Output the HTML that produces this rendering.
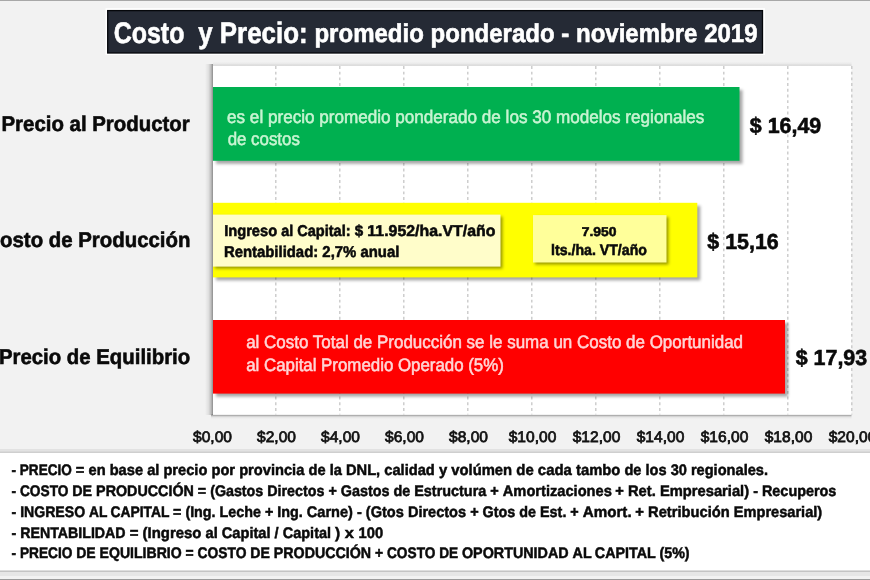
<!DOCTYPE html>
<html><head><meta charset="utf-8"><style>
html,body{margin:0;padding:0;background:#f2f2f2;}
body{width:870px;height:580px;overflow:hidden;position:relative;}
svg{position:absolute;left:0;top:0;display:block;}
text{font-family:"Liberation Sans",sans-serif;text-rendering:geometricPrecision;}
</style></head><body>
<svg width="870" height="580" viewBox="0 0 870 580">
<defs>
<filter id="sh" color-interpolation-filters="sRGB" x="-5%" y="-20%" width="110%" height="150%"><feGaussianBlur in="SourceAlpha" stdDeviation="1.8"/><feOffset dx="2.5" dy="3" result="b"/><feFlood flood-color="#000" flood-opacity="0.35"/><feComposite in2="b" operator="in"/><feMerge><feMergeNode/><feMergeNode in="SourceGraphic"/></feMerge></filter>
<filter id="sh2" color-interpolation-filters="sRGB" x="-5%" y="-20%" width="110%" height="150%"><feGaussianBlur in="SourceAlpha" stdDeviation="1.5"/><feOffset dx="1.5" dy="2" result="b"/><feFlood flood-color="#000" flood-opacity="0.4"/><feComposite in2="b" operator="in"/><feMerge><feMergeNode/><feMergeNode in="SourceGraphic"/></feMerge></filter>
<filter id="psh" x="-5%" y="-5%" width="110%" height="110%"><feGaussianBlur in="SourceAlpha" stdDeviation="1.6"/><feOffset dx="-2.5" dy="1.5" result="b"/><feFlood flood-color="#000" flood-opacity="0.55"/><feComposite in2="b" operator="in"/><feMerge><feMergeNode/><feMergeNode in="SourceGraphic"/></feMerge></filter>
<linearGradient id="lsh" x1="0" x2="1" y1="0" y2="0"><stop offset="0" stop-color="#000" stop-opacity="0"/><stop offset="0.45" stop-color="#000" stop-opacity="0.08"/><stop offset="0.75" stop-color="#000" stop-opacity="0.22"/><stop offset="1" stop-color="#000" stop-opacity="0.42"/></linearGradient>
<linearGradient id="bsh" x1="0" x2="0" y1="0" y2="1"><stop offset="0" stop-color="#000" stop-opacity="0.42"/><stop offset="0.3" stop-color="#000" stop-opacity="0.15"/><stop offset="0.6" stop-color="#000" stop-opacity="0.03"/><stop offset="1" stop-color="#000" stop-opacity="0"/></linearGradient>
<linearGradient id="tsh" x1="0" x2="0" y1="0" y2="1"><stop offset="0" stop-color="#000" stop-opacity="0"/><stop offset="0.6" stop-color="#000" stop-opacity="0.04"/><stop offset="1" stop-color="#000" stop-opacity="0.17"/></linearGradient>
</defs>
<rect x="0" y="0" width="870" height="580" fill="#f2f2f2"/>
<rect x="0" y="0" width="870" height="1" fill="#a8a8a8"/>
<!-- title -->
<rect x="105.5" y="8.2" width="659.5" height="46.8" fill="#ffffff"/>
<rect x="107.7" y="10.6" width="654.8" height="42.4" fill="#252a35" stroke="#05070b" stroke-width="1.3"/>
<!-- plot area -->
<rect x="205" y="64" width="8" height="351" fill="url(#lsh)"/>
<rect x="211" y="414.7" width="640.5" height="5" fill="url(#bsh)"/>
<rect x="213" y="61.5" width="638.5" height="4.3" fill="url(#tsh)"/>
<rect x="213" y="65.8" width="638.5" height="348.9" fill="#ffffff"/>
<g stroke="#c6c6c6" stroke-width="1.3" stroke-dasharray="2.9,2.8">
<line x1="275.8" y1="66" x2="275.8" y2="414.5"/>
<line x1="339.8" y1="66" x2="339.8" y2="414.5"/>
<line x1="403.8" y1="66" x2="403.8" y2="414.5"/>
<line x1="467.8" y1="66" x2="467.8" y2="414.5"/>
<line x1="531.8" y1="66" x2="531.8" y2="414.5"/>
<line x1="595.8" y1="66" x2="595.8" y2="414.5"/>
<line x1="659.8" y1="66" x2="659.8" y2="414.5"/>
<line x1="723.8" y1="66" x2="723.8" y2="414.5"/>
<line x1="787.8" y1="66" x2="787.8" y2="414.5"/>
<line x1="851.8" y1="66" x2="851.8" y2="414.5"/>
</g>
<!-- bars -->
<rect x="213" y="87" width="526.5" height="73.8" fill="#00b050" filter="url(#sh)"/>
<rect x="213" y="202.8" width="484.3" height="74.6" fill="#ffff00" filter="url(#sh)"/>
<rect x="213" y="214.6" width="287.5" height="52" fill="#fffdca" filter="url(#sh2)"/>
<rect x="533" y="215.1" width="133.5" height="47.4" fill="#ffff9a" filter="url(#sh2)"/>
<rect x="213" y="320" width="572" height="73.6" fill="#ff0000" filter="url(#sh)"/>
<!-- bottom box -->
<rect x="0" y="449" width="870" height="4" fill="#e2e2e2"/>
<rect x="0" y="451.5" width="870" height="1.5" fill="#cfcfcf"/>
<rect x="0" y="453" width="870" height="117.5" fill="#ffffff"/>
<rect x="0" y="570.5" width="870" height="1.5" fill="#c4c4c4"/>
<rect x="0" y="572" width="870" height="4" fill="#e6e6e6"/>
<rect x="0" y="579" width="870" height="1" fill="#9a9a9a"/>
<g opacity="0.999">
<text x="113.68" y="42.75" font-size="29.64" font-weight="bold" stroke="#ffffff" stroke-width="0.6" fill="#ffffff" textLength="70.74" lengthAdjust="spacingAndGlyphs">Costo</text>
<text x="198.32" y="42.75" font-size="29.64" font-weight="bold" stroke="#ffffff" stroke-width="0.6" fill="#ffffff" textLength="14.36" lengthAdjust="spacingAndGlyphs">y</text>
<text x="219.85" y="42.75" font-size="29.64" font-weight="bold" stroke="#ffffff" stroke-width="0.6" fill="#ffffff" textLength="87.78" lengthAdjust="spacingAndGlyphs">Precio:</text>
<text x="314.44" y="42.15" font-size="25.79" font-weight="bold" stroke="#ffffff" stroke-width="0.6" fill="#ffffff" textLength="443.14" lengthAdjust="spacingAndGlyphs">promedio ponderado - noviembre 2019</text>
<text x="1.52" y="131.25" font-size="21.42" font-weight="bold" stroke="#0a0a0a" stroke-width="0.6" fill="#0a0a0a" textLength="188.18" lengthAdjust="spacingAndGlyphs">Precio al Productor</text>
<text x="-14.69" y="247.45" font-size="21.42" font-weight="bold" stroke="#0a0a0a" stroke-width="0.6" fill="#0a0a0a" textLength="205.14" lengthAdjust="spacingAndGlyphs">Costo de Producción</text>
<text x="-1.07" y="363.85" font-size="21.42" font-weight="bold" stroke="#0a0a0a" stroke-width="0.6" fill="#0a0a0a" textLength="191.26" lengthAdjust="spacingAndGlyphs">Precio de Equilibrio</text>
<text x="749.83" y="132.65" font-size="21.84" font-weight="bold" stroke="#0a0a0a" stroke-width="0.6" fill="#0a0a0a" textLength="71.45" lengthAdjust="spacingAndGlyphs">$ 16,49</text>
<text x="707.33" y="248.75" font-size="21.84" font-weight="bold" stroke="#0a0a0a" stroke-width="0.6" fill="#0a0a0a" textLength="71.45" lengthAdjust="spacingAndGlyphs">$ 15,16</text>
<text x="795.73" y="365.25" font-size="21.84" font-weight="bold" stroke="#0a0a0a" stroke-width="0.6" fill="#0a0a0a" textLength="71.45" lengthAdjust="spacingAndGlyphs">$ 17,93</text>
<text x="227.07" y="122.65" font-size="18.1" stroke="#c8f4d2" stroke-width="0.55" fill="#c8f4d2" textLength="477.23" lengthAdjust="spacingAndGlyphs">es el precio promedio ponderado de los 30 modelos regionales</text>
<text x="227.68" y="145.05" font-size="18.1" stroke="#c8f4d2" stroke-width="0.55" fill="#c8f4d2" textLength="72.21" lengthAdjust="spacingAndGlyphs">de costos</text>
<text x="224.17" y="236.25" font-size="15.6" font-weight="bold" stroke="#0a0a0a" stroke-width="0.55" fill="#0a0a0a" textLength="53.01" lengthAdjust="spacingAndGlyphs">Ingreso</text>
<text x="281.23" y="236.25" font-size="15.6" font-weight="bold" stroke="#0a0a0a" stroke-width="0.55" fill="#0a0a0a" textLength="11.97" lengthAdjust="spacingAndGlyphs">al</text>
<text x="297.20" y="236.25" font-size="15.6" font-weight="bold" stroke="#0a0a0a" stroke-width="0.55" fill="#0a0a0a" textLength="53.42" lengthAdjust="spacingAndGlyphs">Capital:</text>
<text x="354.68" y="236.25" font-size="15.6" font-weight="bold" stroke="#0a0a0a" stroke-width="0.55" fill="#0a0a0a" textLength="8.45" lengthAdjust="spacingAndGlyphs">$</text>
<text x="367.36" y="236.25" font-size="15.6" font-weight="bold" stroke="#0a0a0a" stroke-width="0.55" fill="#0a0a0a" textLength="128.02" lengthAdjust="spacingAndGlyphs">11.952/ha.VT/año</text>
<text x="223.89" y="257.25" font-size="15.6" font-weight="bold" stroke="#0a0a0a" stroke-width="0.55" fill="#0a0a0a" textLength="175.46" lengthAdjust="spacingAndGlyphs">Rentabilidad: 2,7% anual</text>
<text x="581.71" y="235.85" font-size="12.79" font-weight="bold" stroke="#0a0a0a" stroke-width="0.55" fill="#0a0a0a" textLength="34.75" lengthAdjust="spacingAndGlyphs">7.950</text>
<text x="551.01" y="254.85" font-size="15.08" font-weight="bold" stroke="#0a0a0a" stroke-width="0.55" fill="#0a0a0a" textLength="95.94" lengthAdjust="spacingAndGlyphs">lts./ha. VT/año</text>
<text x="246.18" y="348.25" font-size="17.99" stroke="#ffd6d6" stroke-width="0.55" fill="#ffd6d6" textLength="496.89" lengthAdjust="spacingAndGlyphs">al Costo Total de Producción se le suma un Costo de Oportunidad</text>
<text x="246.18" y="371.25" font-size="17.99" stroke="#ffd6d6" stroke-width="0.55" fill="#ffd6d6" textLength="257.64" lengthAdjust="spacingAndGlyphs">al Capital Promedio Operado (5%)</text>
<text x="193.04" y="441.85" font-size="15.39" stroke="#111111" stroke-width="0.75" fill="#111111" textLength="38.94" lengthAdjust="spacingAndGlyphs">$0,00</text>
<text x="257.04" y="441.85" font-size="15.39" stroke="#111111" stroke-width="0.75" fill="#111111" textLength="38.94" lengthAdjust="spacingAndGlyphs">$2,00</text>
<text x="321.04" y="441.85" font-size="15.39" stroke="#111111" stroke-width="0.75" fill="#111111" textLength="38.94" lengthAdjust="spacingAndGlyphs">$4,00</text>
<text x="385.04" y="441.85" font-size="15.39" stroke="#111111" stroke-width="0.75" fill="#111111" textLength="38.94" lengthAdjust="spacingAndGlyphs">$6,00</text>
<text x="449.04" y="441.85" font-size="15.39" stroke="#111111" stroke-width="0.75" fill="#111111" textLength="38.94" lengthAdjust="spacingAndGlyphs">$8,00</text>
<text x="508.73" y="441.85" font-size="15.39" stroke="#111111" stroke-width="0.75" fill="#111111" textLength="47.59" lengthAdjust="spacingAndGlyphs">$10,00</text>
<text x="572.73" y="441.85" font-size="15.39" stroke="#111111" stroke-width="0.75" fill="#111111" textLength="47.59" lengthAdjust="spacingAndGlyphs">$12,00</text>
<text x="636.73" y="441.85" font-size="15.39" stroke="#111111" stroke-width="0.75" fill="#111111" textLength="47.59" lengthAdjust="spacingAndGlyphs">$14,00</text>
<text x="700.73" y="441.85" font-size="15.39" stroke="#111111" stroke-width="0.75" fill="#111111" textLength="47.59" lengthAdjust="spacingAndGlyphs">$16,00</text>
<text x="764.73" y="441.85" font-size="15.39" stroke="#111111" stroke-width="0.75" fill="#111111" textLength="47.59" lengthAdjust="spacingAndGlyphs">$18,00</text>
<text x="828.73" y="441.85" font-size="15.39" stroke="#111111" stroke-width="0.75" fill="#111111" textLength="47.59" lengthAdjust="spacingAndGlyphs">$20,00</text>
<text x="11.52" y="475.25" font-size="15.29" font-weight="bold" stroke="#0a0a0a" stroke-width="0.5" fill="#0a0a0a" textLength="4.55" lengthAdjust="spacingAndGlyphs">-</text>
<text x="19.83" y="475.25" font-size="15.29" font-weight="bold" stroke="#0a0a0a" stroke-width="0.5" fill="#0a0a0a" textLength="51.97" lengthAdjust="spacingAndGlyphs">PRECIO</text>
<text x="75.87" y="475.25" font-size="15.29" font-weight="bold" stroke="#0a0a0a" stroke-width="0.5" fill="#0a0a0a" textLength="8.56" lengthAdjust="spacingAndGlyphs">=</text>
<text x="88.50" y="475.25" font-size="15.29" font-weight="bold" stroke="#0a0a0a" stroke-width="0.5" fill="#0a0a0a" textLength="17.10" lengthAdjust="spacingAndGlyphs">en</text>
<text x="109.67" y="475.25" font-size="15.29" font-weight="bold" stroke="#0a0a0a" stroke-width="0.5" fill="#0a0a0a" textLength="33.39" lengthAdjust="spacingAndGlyphs">base</text>
<text x="147.13" y="475.25" font-size="15.29" font-weight="bold" stroke="#0a0a0a" stroke-width="0.5" fill="#0a0a0a" textLength="12.22" lengthAdjust="spacingAndGlyphs">al</text>
<text x="163.42" y="475.25" font-size="15.29" font-weight="bold" stroke="#0a0a0a" stroke-width="0.5" fill="#0a0a0a" textLength="43.97" lengthAdjust="spacingAndGlyphs">precio</text>
<text x="211.46" y="475.25" font-size="15.29" font-weight="bold" stroke="#0a0a0a" stroke-width="0.5" fill="#0a0a0a" textLength="23.60" lengthAdjust="spacingAndGlyphs">por</text>
<text x="239.14" y="475.25" font-size="15.29" font-weight="bold" stroke="#0a0a0a" stroke-width="0.5" fill="#0a0a0a" textLength="65.22" lengthAdjust="spacingAndGlyphs">provincia</text>
<text x="308.44" y="475.25" font-size="15.29" font-weight="bold" stroke="#0a0a0a" stroke-width="0.5" fill="#0a0a0a" textLength="17.12" lengthAdjust="spacingAndGlyphs">de</text>
<text x="329.63" y="475.25" font-size="15.29" font-weight="bold" stroke="#0a0a0a" stroke-width="0.5" fill="#0a0a0a" textLength="12.24" lengthAdjust="spacingAndGlyphs">la</text>
<text x="345.95" y="475.25" font-size="15.29" font-weight="bold" stroke="#0a0a0a" stroke-width="0.5" fill="#0a0a0a" textLength="34.23" lengthAdjust="spacingAndGlyphs">DNL,</text>
<text x="384.25" y="475.25" font-size="15.29" font-weight="bold" stroke="#0a0a0a" stroke-width="0.5" fill="#0a0a0a" textLength="50.55" lengthAdjust="spacingAndGlyphs">calidad</text>
<text x="438.90" y="475.25" font-size="15.29" font-weight="bold" stroke="#0a0a0a" stroke-width="0.5" fill="#0a0a0a" textLength="8.24" lengthAdjust="spacingAndGlyphs">y</text>
<text x="451.25" y="475.25" font-size="15.29" font-weight="bold" stroke="#0a0a0a" stroke-width="0.5" fill="#0a0a0a" textLength="60.92" lengthAdjust="spacingAndGlyphs">volúmen</text>
<text x="516.29" y="475.25" font-size="15.29" font-weight="bold" stroke="#0a0a0a" stroke-width="0.5" fill="#0a0a0a" textLength="17.40" lengthAdjust="spacingAndGlyphs">de</text>
<text x="537.85" y="475.25" font-size="15.29" font-weight="bold" stroke="#0a0a0a" stroke-width="0.5" fill="#0a0a0a" textLength="34.02" lengthAdjust="spacingAndGlyphs">cada</text>
<text x="576.01" y="475.25" font-size="15.29" font-weight="bold" stroke="#0a0a0a" stroke-width="0.5" fill="#0a0a0a" textLength="44.32" lengthAdjust="spacingAndGlyphs">tambo</text>
<text x="624.39" y="475.25" font-size="15.29" font-weight="bold" stroke="#0a0a0a" stroke-width="0.5" fill="#0a0a0a" textLength="17.04" lengthAdjust="spacingAndGlyphs">de</text>
<text x="645.48" y="475.25" font-size="15.29" font-weight="bold" stroke="#0a0a0a" stroke-width="0.5" fill="#0a0a0a" textLength="21.09" lengthAdjust="spacingAndGlyphs">los</text>
<text x="670.63" y="475.25" font-size="15.29" font-weight="bold" stroke="#0a0a0a" stroke-width="0.5" fill="#0a0a0a" textLength="16.24" lengthAdjust="spacingAndGlyphs">30</text>
<text x="690.92" y="475.25" font-size="15.29" font-weight="bold" stroke="#0a0a0a" stroke-width="0.5" fill="#0a0a0a" textLength="77.07" lengthAdjust="spacingAndGlyphs">regionales.</text>
<text x="11.52" y="496.15" font-size="15.29" font-weight="bold" stroke="#0a0a0a" stroke-width="0.5" fill="#0a0a0a" textLength="4.59" lengthAdjust="spacingAndGlyphs">-</text>
<text x="19.93" y="496.15" font-size="15.29" font-weight="bold" stroke="#0a0a0a" stroke-width="0.5" fill="#0a0a0a" textLength="48.54" lengthAdjust="spacingAndGlyphs">COSTO</text>
<text x="72.28" y="496.15" font-size="15.29" font-weight="bold" stroke="#0a0a0a" stroke-width="0.5" fill="#0a0a0a" textLength="19.84" lengthAdjust="spacingAndGlyphs">DE</text>
<text x="96.10" y="496.15" font-size="15.29" font-weight="bold" stroke="#0a0a0a" stroke-width="0.5" fill="#0a0a0a" textLength="97.75" lengthAdjust="spacingAndGlyphs">PRODUCCIÓN</text>
<text x="197.82" y="496.15" font-size="15.29" font-weight="bold" stroke="#0a0a0a" stroke-width="0.5" fill="#0a0a0a" textLength="8.34" lengthAdjust="spacingAndGlyphs">=</text>
<text x="210.13" y="496.15" font-size="15.29" font-weight="bold" stroke="#0a0a0a" stroke-width="0.5" fill="#0a0a0a" textLength="53.17" lengthAdjust="spacingAndGlyphs">(Gastos</text>
<text x="267.27" y="496.15" font-size="15.29" font-weight="bold" stroke="#0a0a0a" stroke-width="0.5" fill="#0a0a0a" textLength="57.15" lengthAdjust="spacingAndGlyphs">Directos</text>
<text x="328.38" y="496.15" font-size="15.29" font-weight="bold" stroke="#0a0a0a" stroke-width="0.5" fill="#0a0a0a" textLength="8.34" lengthAdjust="spacingAndGlyphs">+</text>
<text x="340.69" y="496.15" font-size="15.29" font-weight="bold" stroke="#0a0a0a" stroke-width="0.5" fill="#0a0a0a" textLength="48.77" lengthAdjust="spacingAndGlyphs">Gastos</text>
<text x="393.46" y="496.15" font-size="15.29" font-weight="bold" stroke="#0a0a0a" stroke-width="0.5" fill="#0a0a0a" textLength="16.80" lengthAdjust="spacingAndGlyphs">de</text>
<text x="414.27" y="496.15" font-size="15.29" font-weight="bold" stroke="#0a0a0a" stroke-width="0.5" fill="#0a0a0a" textLength="72.01" lengthAdjust="spacingAndGlyphs">Estructura</text>
<text x="490.27" y="496.15" font-size="15.29" font-weight="bold" stroke="#0a0a0a" stroke-width="0.5" fill="#0a0a0a" textLength="8.47" lengthAdjust="spacingAndGlyphs">+</text>
<text x="502.81" y="496.15" font-size="15.29" font-weight="bold" stroke="#0a0a0a" stroke-width="0.5" fill="#0a0a0a" textLength="109.02" lengthAdjust="spacingAndGlyphs">Amortizaciones</text>
<text x="615.35" y="496.15" font-size="15.29" font-weight="bold" stroke="#0a0a0a" stroke-width="0.5" fill="#0a0a0a" textLength="8.55" lengthAdjust="spacingAndGlyphs">+</text>
<text x="627.97" y="496.15" font-size="15.29" font-weight="bold" stroke="#0a0a0a" stroke-width="0.5" fill="#0a0a0a" textLength="27.81" lengthAdjust="spacingAndGlyphs">Ret.</text>
<text x="659.88" y="496.15" font-size="15.29" font-weight="bold" stroke="#0a0a0a" stroke-width="0.5" fill="#0a0a0a" textLength="89.20" lengthAdjust="spacingAndGlyphs">Empresarial)</text>
<text x="753.16" y="496.15" font-size="15.29" font-weight="bold" stroke="#0a0a0a" stroke-width="0.5" fill="#0a0a0a" textLength="4.81" lengthAdjust="spacingAndGlyphs">-</text>
<text x="761.98" y="496.15" font-size="15.29" font-weight="bold" stroke="#0a0a0a" stroke-width="0.5" fill="#0a0a0a" textLength="74.41" lengthAdjust="spacingAndGlyphs">Recuperos</text>
<text x="11.52" y="516.85" font-size="15.29" font-weight="bold" stroke="#0a0a0a" stroke-width="0.5" fill="#0a0a0a" textLength="4.70" lengthAdjust="spacingAndGlyphs">-</text>
<text x="20.14" y="516.85" font-size="15.29" font-weight="bold" stroke="#0a0a0a" stroke-width="0.5" fill="#0a0a0a" textLength="65.01" lengthAdjust="spacingAndGlyphs">INGRESO</text>
<text x="89.05" y="516.85" font-size="15.29" font-weight="bold" stroke="#0a0a0a" stroke-width="0.5" fill="#0a0a0a" textLength="18.40" lengthAdjust="spacingAndGlyphs">AL</text>
<text x="110.52" y="516.85" font-size="15.29" font-weight="bold" stroke="#0a0a0a" stroke-width="0.5" fill="#0a0a0a" textLength="58.97" lengthAdjust="spacingAndGlyphs">CAPITAL</text>
<text x="173.09" y="516.85" font-size="15.29" font-weight="bold" stroke="#0a0a0a" stroke-width="0.5" fill="#0a0a0a" textLength="8.31" lengthAdjust="spacingAndGlyphs">=</text>
<text x="185.38" y="516.85" font-size="15.29" font-weight="bold" stroke="#0a0a0a" stroke-width="0.5" fill="#0a0a0a" textLength="30.20" lengthAdjust="spacingAndGlyphs">(Ing.</text>
<text x="219.55" y="516.85" font-size="15.29" font-weight="bold" stroke="#0a0a0a" stroke-width="0.5" fill="#0a0a0a" textLength="41.35" lengthAdjust="spacingAndGlyphs">Leche</text>
<text x="264.88" y="516.85" font-size="15.29" font-weight="bold" stroke="#0a0a0a" stroke-width="0.5" fill="#0a0a0a" textLength="8.36" lengthAdjust="spacingAndGlyphs">+</text>
<text x="277.21" y="516.85" font-size="15.29" font-weight="bold" stroke="#0a0a0a" stroke-width="0.5" fill="#0a0a0a" textLength="25.59" lengthAdjust="spacingAndGlyphs">Ing.</text>
<text x="306.84" y="516.85" font-size="15.29" font-weight="bold" stroke="#0a0a0a" stroke-width="0.5" fill="#0a0a0a" textLength="46.08" lengthAdjust="spacingAndGlyphs">Carne)</text>
<text x="356.96" y="516.85" font-size="15.29" font-weight="bold" stroke="#0a0a0a" stroke-width="0.5" fill="#0a0a0a" textLength="4.84" lengthAdjust="spacingAndGlyphs">-</text>
<text x="365.85" y="516.85" font-size="15.29" font-weight="bold" stroke="#0a0a0a" stroke-width="0.5" fill="#0a0a0a" textLength="37.99" lengthAdjust="spacingAndGlyphs">(Gtos</text>
<text x="407.88" y="516.85" font-size="15.29" font-weight="bold" stroke="#0a0a0a" stroke-width="0.5" fill="#0a0a0a" textLength="58.22" lengthAdjust="spacingAndGlyphs">Directos</text>
<text x="470.14" y="516.85" font-size="15.29" font-weight="bold" stroke="#0a0a0a" stroke-width="0.5" fill="#0a0a0a" textLength="8.45" lengthAdjust="spacingAndGlyphs">+</text>
<text x="482.58" y="516.85" font-size="15.29" font-weight="bold" stroke="#0a0a0a" stroke-width="0.5" fill="#0a0a0a" textLength="32.72" lengthAdjust="spacingAndGlyphs">Gtos</text>
<text x="519.29" y="516.85" font-size="15.29" font-weight="bold" stroke="#0a0a0a" stroke-width="0.5" fill="#0a0a0a" textLength="16.76" lengthAdjust="spacingAndGlyphs">de</text>
<text x="540.04" y="516.85" font-size="15.29" font-weight="bold" stroke="#0a0a0a" stroke-width="0.5" fill="#0a0a0a" textLength="26.34" lengthAdjust="spacingAndGlyphs">Est.</text>
<text x="570.37" y="516.85" font-size="15.29" font-weight="bold" stroke="#0a0a0a" stroke-width="0.5" fill="#0a0a0a" textLength="8.39" lengthAdjust="spacingAndGlyphs">+</text>
<text x="582.75" y="516.85" font-size="15.29" font-weight="bold" stroke="#0a0a0a" stroke-width="0.5" fill="#0a0a0a" textLength="48.90" lengthAdjust="spacingAndGlyphs">Amort.</text>
<text x="635.31" y="516.85" font-size="15.29" font-weight="bold" stroke="#0a0a0a" stroke-width="0.5" fill="#0a0a0a" textLength="8.65" lengthAdjust="spacingAndGlyphs">+</text>
<text x="648.04" y="516.85" font-size="15.29" font-weight="bold" stroke="#0a0a0a" stroke-width="0.5" fill="#0a0a0a" textLength="81.67" lengthAdjust="spacingAndGlyphs">Retribución</text>
<text x="733.79" y="516.85" font-size="15.29" font-weight="bold" stroke="#0a0a0a" stroke-width="0.5" fill="#0a0a0a" textLength="88.44" lengthAdjust="spacingAndGlyphs">Empresarial)</text>
<text x="11.51" y="537.55" font-size="15.29" font-weight="bold" stroke="#0a0a0a" stroke-width="0.5" fill="#0a0a0a" textLength="4.74" lengthAdjust="spacingAndGlyphs">-</text>
<text x="20.20" y="537.55" font-size="15.29" font-weight="bold" stroke="#0a0a0a" stroke-width="0.5" fill="#0a0a0a" textLength="105.39" lengthAdjust="spacingAndGlyphs">RENTABILIDAD</text>
<text x="129.70" y="537.55" font-size="15.29" font-weight="bold" stroke="#0a0a0a" stroke-width="0.5" fill="#0a0a0a" textLength="8.73" lengthAdjust="spacingAndGlyphs">=</text>
<text x="142.57" y="537.55" font-size="15.29" font-weight="bold" stroke="#0a0a0a" stroke-width="0.5" fill="#0a0a0a" textLength="58.87" lengthAdjust="spacingAndGlyphs">(Ingreso</text>
<text x="205.50" y="537.55" font-size="15.29" font-weight="bold" stroke="#0a0a0a" stroke-width="0.5" fill="#0a0a0a" textLength="12.20" lengthAdjust="spacingAndGlyphs">al</text>
<text x="221.77" y="537.55" font-size="15.29" font-weight="bold" stroke="#0a0a0a" stroke-width="0.5" fill="#0a0a0a" textLength="48.77" lengthAdjust="spacingAndGlyphs">Capital</text>
<text x="274.60" y="537.55" font-size="15.29" font-weight="bold" stroke="#0a0a0a" stroke-width="0.5" fill="#0a0a0a" textLength="4.06" lengthAdjust="spacingAndGlyphs">/</text>
<text x="282.73" y="537.55" font-size="15.29" font-weight="bold" stroke="#0a0a0a" stroke-width="0.5" fill="#0a0a0a" textLength="48.33" lengthAdjust="spacingAndGlyphs">Capital</text>
<text x="335.09" y="537.55" font-size="15.29" font-weight="bold" stroke="#0a0a0a" stroke-width="0.5" fill="#0a0a0a" textLength="5.15" lengthAdjust="spacingAndGlyphs">)</text>
<text x="344.81" y="537.55" font-size="15.29" font-weight="bold" stroke="#0a0a0a" stroke-width="0.5" fill="#0a0a0a" textLength="9.15" lengthAdjust="spacingAndGlyphs">x</text>
<text x="358.53" y="537.55" font-size="15.29" font-weight="bold" stroke="#0a0a0a" stroke-width="0.5" fill="#0a0a0a" textLength="24.57" lengthAdjust="spacingAndGlyphs">100</text>
<text x="11.54" y="558.25" font-size="15.29" font-weight="bold" stroke="#0a0a0a" stroke-width="0.5" fill="#0a0a0a" textLength="4.57" lengthAdjust="spacingAndGlyphs">-</text>
<text x="19.91" y="558.25" font-size="15.29" font-weight="bold" stroke="#0a0a0a" stroke-width="0.5" fill="#0a0a0a" textLength="52.50" lengthAdjust="spacingAndGlyphs">PRECIO</text>
<text x="76.22" y="558.25" font-size="15.29" font-weight="bold" stroke="#0a0a0a" stroke-width="0.5" fill="#0a0a0a" textLength="19.48" lengthAdjust="spacingAndGlyphs">DE</text>
<text x="99.61" y="558.25" font-size="15.29" font-weight="bold" stroke="#0a0a0a" stroke-width="0.5" fill="#0a0a0a" textLength="82.05" lengthAdjust="spacingAndGlyphs">EQUILIBRIO</text>
<text x="185.57" y="558.25" font-size="15.29" font-weight="bold" stroke="#0a0a0a" stroke-width="0.5" fill="#0a0a0a" textLength="8.12" lengthAdjust="spacingAndGlyphs">=</text>
<text x="197.53" y="558.25" font-size="15.29" font-weight="bold" stroke="#0a0a0a" stroke-width="0.5" fill="#0a0a0a" textLength="48.90" lengthAdjust="spacingAndGlyphs">COSTO</text>
<text x="250.27" y="558.25" font-size="15.29" font-weight="bold" stroke="#0a0a0a" stroke-width="0.5" fill="#0a0a0a" textLength="19.58" lengthAdjust="spacingAndGlyphs">DE</text>
<text x="273.81" y="558.25" font-size="15.29" font-weight="bold" stroke="#0a0a0a" stroke-width="0.5" fill="#0a0a0a" textLength="97.32" lengthAdjust="spacingAndGlyphs">PRODUCCIÓN</text>
<text x="375.08" y="558.25" font-size="15.29" font-weight="bold" stroke="#0a0a0a" stroke-width="0.5" fill="#0a0a0a" textLength="8.12" lengthAdjust="spacingAndGlyphs">+</text>
<text x="387.00" y="558.25" font-size="15.29" font-weight="bold" stroke="#0a0a0a" stroke-width="0.5" fill="#0a0a0a" textLength="48.37" lengthAdjust="spacingAndGlyphs">COSTO</text>
<text x="439.18" y="558.25" font-size="15.29" font-weight="bold" stroke="#0a0a0a" stroke-width="0.5" fill="#0a0a0a" textLength="19.00" lengthAdjust="spacingAndGlyphs">DE</text>
<text x="461.97" y="558.25" font-size="15.29" font-weight="bold" stroke="#0a0a0a" stroke-width="0.5" fill="#0a0a0a" textLength="106.60" lengthAdjust="spacingAndGlyphs">OPORTUNIDAD</text>
<text x="572.56" y="558.25" font-size="15.29" font-weight="bold" stroke="#0a0a0a" stroke-width="0.5" fill="#0a0a0a" textLength="19.08" lengthAdjust="spacingAndGlyphs">AL</text>
<text x="594.82" y="558.25" font-size="15.29" font-weight="bold" stroke="#0a0a0a" stroke-width="0.5" fill="#0a0a0a" textLength="60.89" lengthAdjust="spacingAndGlyphs">CAPITAL</text>
<text x="659.43" y="558.25" font-size="15.29" font-weight="bold" stroke="#0a0a0a" stroke-width="0.5" fill="#0a0a0a" textLength="30.18" lengthAdjust="spacingAndGlyphs">(5%)</text>
</g>
</svg>
</body></html>
